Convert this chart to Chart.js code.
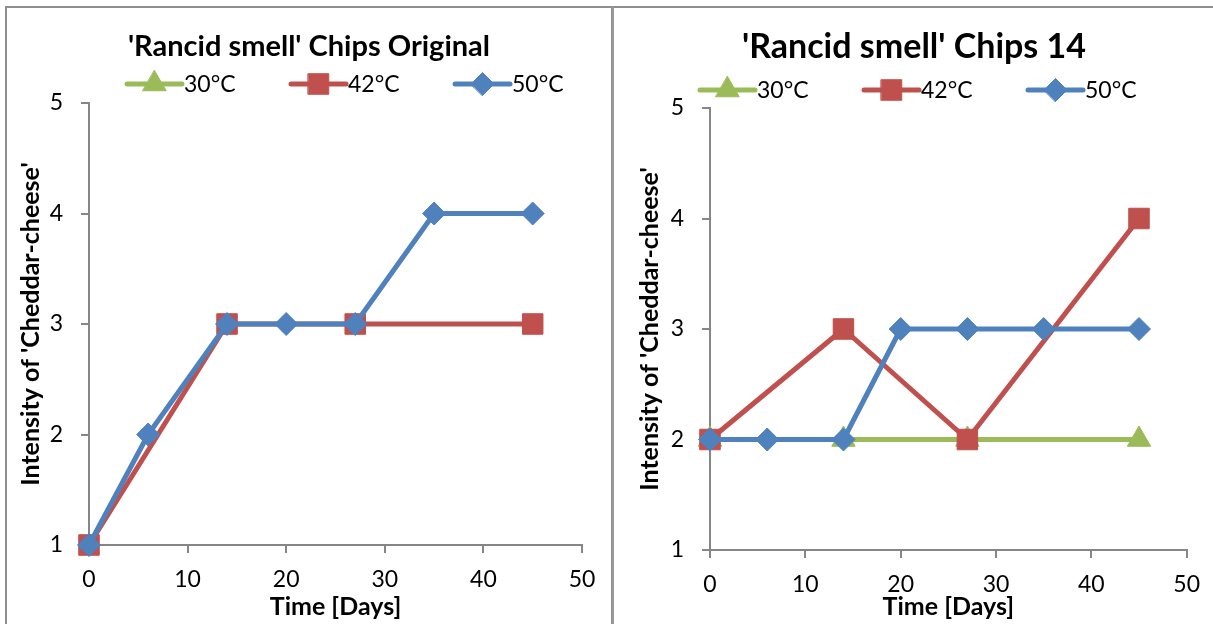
<!DOCTYPE html>
<html>
<head>
<meta charset="utf-8">
<script src="https://cdn.jsdelivr.net/npm/chart.js@4.4.1/dist/chart.umd.min.js"></script>
<style>
  body { margin: 0; background: #fff; width: 1213px; height: 624px; overflow: hidden; position: relative; }
  .panel { position: absolute; box-sizing: border-box; border: 2px solid #8e8e8e; background: #fff; }
  #p1 { left: 5px; top: 6px; width: 608px; height: 660px; }
  #p2 { left: 612px; top: 6px; width: 660px; height: 660px; border-left-color: #9a9a9a; }
  canvas { position: absolute; }
  #c1 { left: 8px; top: 9px; }
  #c2 { left: 615px; top: 9px; }
</style>
</head>
<body>
<div class="panel" id="p1"></div>
<div class="panel" id="p2"></div>
<canvas id="c1" width="602" height="615"></canvas>
<canvas id="c2" width="598" height="615"></canvas>
<script>
// series names
const seriesNames = ["30°C", "42°C", "50°C"];

// Chips Original
const origDays30 = [];
const origVals30 = [];
const origDays42 = [0, 14, 27, 45];
const origVals42 = [1, 3, 3, 3];
const origDays50 = [0, 6, 14, 20, 27, 35, 45];
const origVals50 = [1, 2, 3, 3, 3, 4, 4];

// Chips 14
const c14Days30 = [0, 14, 27, 45];
const c14Vals30 = [2, 2, 2, 2];
const c14Days42 = [0, 14, 27, 45];
const c14Vals42 = [2, 3, 2, 4];
const c14Days50 = [0, 6, 14, 20, 27, 35, 45];
const c14Vals50 = [2, 2, 2, 3, 3, 3, 3];

// axes
const xTicks = [0, 10, 20, 30, 40, 50];
const yTicks = [1, 2, 3, 4, 5];

const green = "#9BBB59", red = "#C0504D", blue = "#4F81BD";
const axisGrey = "#868686";
const FONT = "Lato, 'Open Sans', sans-serif";

function pts(xs, ys) {
  return xs.map((x, i) => ({ x: x, y: ys[i] }));
}

function makeSets(d30, v30, d42, v42, d50, v50) {
  const base = { borderWidth: 5, borderJoinStyle: "round", borderCapStyle: "round", tension: 0, pointBorderWidth: 1, clip: false };
  return [
    { ...base, label: seriesNames[0], data: pts(d30, v30), borderColor: green, backgroundColor: green,
      pointStyle: "triangle", pointRadius: 13.5, order: 3 },
    { ...base, label: seriesNames[1], data: pts(d42, v42), borderColor: red, backgroundColor: red,
      pointStyle: "rect", pointRadius: 14.5, order: 2 },
    { ...base, label: seriesNames[2], data: pts(d50, v50), borderColor: blue, backgroundColor: blue,
      pointStyle: "rectRot", pointRadius: 11.5, order: 1 }
  ];
}

// line + marker legend like excel
const excelLegend = {
  id: "excelLegend",
  afterDraw(chart, args, opts) {
    const ctx = chart.ctx;
    ctx.save();
    chart.data.datasets.forEach((ds, i) => {
      const x0 = opts.x + i * opts.step;
      const y = opts.y;
      ctx.strokeStyle = ds.borderColor;
      ctx.lineWidth = 5;
      ctx.lineCap = "round";
      ctx.beginPath();
      ctx.moveTo(x0, y);
      ctx.lineTo(x0 + 55, y);
      ctx.stroke();
      ctx.fillStyle = ds.backgroundColor;
      ctx.lineWidth = 1;
      Chart.helpers.drawPoint(ctx, { pointStyle: ds.pointStyle, radius: ds.pointRadius, rotation: 0, borderWidth: 1 }, x0 + 27.5, y);
      ctx.fillStyle = "#000";
      ctx.font = "23px " + FONT;
      ctx.textBaseline = "middle";
      ctx.textAlign = "left";
      ctx.fillText(ds.label, x0 + 57, y + 1);
    });
    ctx.restore();
  }
};

function makeChart(id, title, titleSize, titlePad, sets, o) {
  new Chart(document.getElementById(id), {
    type: "line",
    data: { datasets: sets },
    plugins: [excelLegend],
    options: {
      responsive: false,
      animation: false,
      events: [],
      layout: { padding: 0 },
      plugins: {
        legend: { display: false },
        tooltip: { enabled: false },
        title: {
          display: true,
          text: title,
          color: "#000",
          font: { family: FONT, size: titleSize, weight: "bold" },
          padding: titlePad
        },
        excelLegend: { x: o.legX, y: o.legY, step: 164 }
      },
      scales: {
        x: {
          type: "linear",
          min: 0,
          max: 50,
          afterBuildTicks: s => { s.ticks = xTicks.map(v => ({ value: v })); },
          afterFit: s => { s.height = o.xh; },
          border: { display: true, color: axisGrey, width: 2 },
          grid: { drawOnChartArea: false, drawTicks: true, tickLength: 8, color: axisGrey, lineWidth: 2 },
          ticks: { color: "#000", padding: 13, font: { family: FONT, size: 23 } },
          title: {
            display: true,
            text: "Time [Days]",
            color: "#000",
            font: { family: FONT, size: 25, weight: "bold" },
            padding: { top: 0, bottom: 2 }
          }
        },
        y: {
          min: 1,
          max: 5,
          afterBuildTicks: s => { s.ticks = yTicks.map(v => ({ value: v })); },
          afterFit: s => { s.width = o.yw; },
          border: { display: true, color: axisGrey, width: 2 },
          grid: { drawOnChartArea: false, drawTicks: true, tickLength: 8, color: axisGrey, lineWidth: 2 },
          ticks: { color: "#000", padding: 18, font: { family: FONT, size: 23 } },
          title: {
            display: true,
            text: "Intensity of 'Cheddar-cheese'",
            color: "#000",
            font: { family: FONT, size: 25, weight: "bold" },
            padding: { top: o.ytPad, bottom: 0 }
          }
        },
        // empty right axis, only keeps room on the right of the plot
        spacer: {
          type: "linear",
          position: "right",
          afterFit: s => { s.width = o.right; },
          border: { display: false },
          grid: { display: false },
          ticks: { display: false }
        }
      }
    }
  });
}

makeChart("c1", "'Rancid smell' Chips Original", 29, { top: 20.6, bottom: 38.6 },
  makeSets(origDays30, origVals30, origDays42, origVals42, origDays50, origVals50),
  { right: 28, xh: 79, yw: 81, ytPad: 8, legX: 119, legY: 75 });

makeChart("c2", "'Rancid smell' Chips 14", 34, { top: 17.6, bottom: 40.6 },
  makeSets(c14Days30, c14Vals30, c14Days42, c14Vals42, c14Days50, c14Vals50),
  { right: 25, xh: 74, yw: 95, ytPad: 20, legX: 85, legY: 81 });
</script>
</body>
</html>
